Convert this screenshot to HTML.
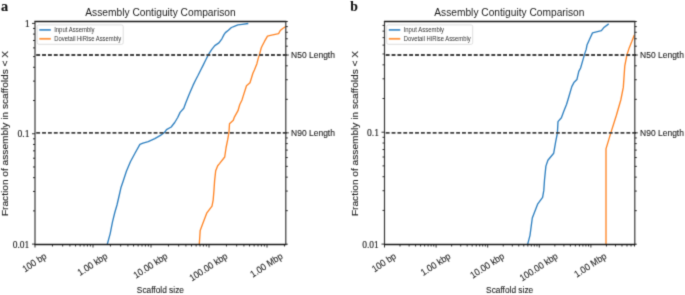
<!DOCTYPE html>
<html><head><meta charset="utf-8"><style>
html,body{margin:0;padding:0;background:#fff;}
text{stroke:#222;stroke-width:0.12px;} text.lg{stroke:none;}
body{width:685px;height:295px;overflow:hidden;}
svg{display:block;}
</style></head><body>
<svg width="685" height="295" viewBox="0 0 685 295">
<defs><filter id="bl" x="0" y="0" width="685" height="295" filterUnits="userSpaceOnUse" color-interpolation-filters="sRGB"><feConvolveMatrix order="3" kernelMatrix="0.037 0.191 0.037 0.191 1 0.191 0.037 0.191 0.037" edgeMode="duplicate"/></filter></defs>
<g filter="url(#bl)">
<rect width="685" height="295" fill="#fff"/>
<path d="M107.3,244.2 L110.2,233.6 L112.5,221.9 L114.8,212.5 L117.0,205.0 L119.3,195.0 L120.9,187.8 L123.3,180.7 L126.4,171.2 L130.4,161.7 L135.1,153.0 L139.9,144.4 L143.0,143.2 L148.2,141.6 L154.8,138.7 L160.0,135.7 L164.8,132.1 L166.5,129.7 L171.2,127.0 L174.7,122.5 L177.7,117.5 L180.1,112.4 L183.8,108.3 L185.6,103.2 L189.2,94.3 L193.0,85.4 L195.5,80.3 L198.1,75.3 L200.6,70.2 L203.2,65.1 L205.7,60.0 L208.4,54.6 L211.8,49.4 L214.8,45.6 L218.9,42.9 L221.9,38.8 L224.0,34.6 L225.4,32.6 L228.4,30.2 L231.4,27.5 L234.3,26.3 L237.9,24.9 L242.1,24.3 L248.3,23.5" fill="none" stroke="#2f80c0" stroke-width="1.35" stroke-linejoin="round"/>
<path d="M199.3,244.2 L200.2,230.4 L202.8,223.5 L206.7,213.2 L212.0,206.1 L213.2,199.8 L214.0,190.0 L214.6,180.9 L215.7,170.8 L217.7,165.7 L219.5,163.6 L224.7,157.0 L226.1,147.5 L227.8,139.2 L229.0,132.0 L229.5,123.7 L233.3,120.2 L234.4,117.1 L238.0,110.7 L239.7,104.7 L242.0,100.0 L243.1,96.4 L246.5,85.7 L250.0,82.8 L252.9,73.3 L254.4,70.0 L256.9,63.7 L258.3,58.1 L259.5,54.7 L261.2,48.0 L262.0,46.3 L264.6,41.2 L267.5,36.1 L270.5,35.3 L278.6,33.6 L280.3,30.5 L282.7,28.5 L285.4,26.8" fill="none" stroke="#ff8526" stroke-width="1.35" stroke-linejoin="round"/>
<line x1="35.0" y1="55.02" x2="288.3" y2="55.02" stroke="#404040" stroke-width="1.9" stroke-dasharray="3.9,1.97" stroke-dashoffset="-1.2"/>
<line x1="35.0" y1="132.85" x2="288.3" y2="132.85" stroke="#404040" stroke-width="1.9" stroke-dasharray="3.9,1.97" stroke-dashoffset="-1.2"/>
<path d="M34.4,21.5H286.40000000000003" stroke="#1a1a1a" stroke-width="1.3" fill="none"/>
<path d="M34.4,244.5H286.40000000000003" stroke="#1a1a1a" stroke-width="1.4" fill="none"/>
<path d="M35.0,21.5V244.5M285.8,21.5V244.5" stroke="#3a3a3a" stroke-width="1.2" fill="none"/>
<path d="M35.00,244.10h-3.0 M285.80,244.20h2.0 M35.00,210.88h-2.0 M285.80,210.68h2.0 M35.00,191.45h-2.0 M285.80,191.07h2.0 M35.00,177.66h-2.0 M285.80,177.16h2.0 M35.00,166.97h-2.0 M285.80,166.37h2.0 M35.00,158.23h-2.0 M285.80,157.55h2.0 M35.00,150.84h-2.0 M285.80,150.10h2.0 M35.00,144.44h-2.0 M285.80,143.64h2.0 M35.00,138.80h-2.0 M285.80,137.95h2.0 M35.00,133.75h-3.0 M285.80,132.85h3.0 M35.00,100.53h-2.0 M285.80,99.33h2.0 M35.00,81.10h-2.0 M285.80,79.72h2.0 M35.00,67.31h-2.0 M285.80,65.81h2.0 M35.00,56.62h-2.0 M285.80,55.02h3.0 M35.00,47.88h-2.0 M285.80,46.20h2.0 M35.00,40.49h-2.0 M285.80,38.75h2.0 M35.00,34.09h-2.0 M285.80,32.29h2.0 M35.00,28.45h-2.0 M285.80,26.60h2.0 M35.00,23.40h-3.0 M285.80,21.50h2.0 M35.00,244.50v3.0 M52.46,244.50v2.0 M62.67,244.50v2.0 M69.92,244.50v2.0 M75.54,244.50v2.0 M80.13,244.50v2.0 M84.02,244.50v2.0 M87.38,244.50v2.0 M90.35,244.50v2.0 M93.00,244.50v3.0 M110.46,244.50v2.0 M120.67,244.50v2.0 M127.92,244.50v2.0 M133.54,244.50v2.0 M138.13,244.50v2.0 M142.02,244.50v2.0 M145.38,244.50v2.0 M148.35,244.50v2.0 M151.00,244.50v3.0 M168.46,244.50v2.0 M178.67,244.50v2.0 M185.92,244.50v2.0 M191.54,244.50v2.0 M196.13,244.50v2.0 M200.02,244.50v2.0 M203.38,244.50v2.0 M206.35,244.50v2.0 M209.00,244.50v3.0 M226.46,244.50v2.0 M236.67,244.50v2.0 M243.92,244.50v2.0 M249.54,244.50v2.0 M254.13,244.50v2.0 M258.02,244.50v2.0 M261.38,244.50v2.0 M264.35,244.50v2.0 M267.00,244.50v3.0 M284.46,244.50v2.0" stroke="#1a1a1a" stroke-width="0.9" fill="none"/>
<rect x="37.2" y="24.9" width="86" height="19.4" rx="1.6" fill="#fff" fill-opacity="0.85" stroke="#d6d6d6" stroke-width="0.8"/>
<line x1="39.3" y1="29.9" x2="50.8" y2="29.9" stroke="#4a92cc" stroke-width="1.8"/>
<line x1="39.3" y1="38.8" x2="50.8" y2="38.8" stroke="#ff9440" stroke-width="1.8"/>
<text class="lg" transform="matrix(0.5964,0,0,0.6345,54.16,31.60)" font-family='"Liberation Sans", sans-serif' font-size="10.0" fill="#333">Input Assembly</text>
<text class="lg" transform="matrix(0.5895,0,0,0.6759,54.23,40.50)" font-family='"Liberation Sans", sans-serif' font-size="10.0" fill="#333">Dovetail HiRise Assembly</text>
<text class="lg" transform="matrix(1.0225,0,0,1.0621,85.30,15.90)" font-family='"Liberation Sans", sans-serif' font-size="10.0" fill="#1a1a1a">Assembly Contiguity Comparison</text>
<text transform="matrix(1.4286,0,0,1.3958,0.97,10.76)" font-family='"Liberation Serif", serif' font-size="10.0" font-weight="bold" fill="#111">a</text>
<text transform="matrix(0.8478,0,0,0.9241,291.12,58.10)" font-family='"Liberation Sans", sans-serif' font-size="10.0" fill="#222">N50 Length</text>
<text transform="matrix(0.8478,0,0,0.9241,291.12,135.90)" font-family='"Liberation Sans", sans-serif' font-size="10.0" fill="#222">N90 Length</text>
<text transform="matrix(1.0141,0,0,1.1212,24.74,26.60)" font-family='"Liberation Serif", serif' font-size="10.0" fill="#222">1</text>
<text transform="matrix(0.9652,0,0,1.0526,17.51,137.00)" font-family='"Liberation Serif", serif' font-size="10.0" fill="#222">0.1</text>
<text transform="matrix(0.9515,0,0,1.0226,12.72,247.80)" font-family='"Liberation Serif", serif' font-size="10.0" fill="#222">0.01</text>
<text transform="matrix(0.7380,-0.4793,0.5120,0.7884,24.90,272.39)" font-family='"Liberation Sans", sans-serif' font-size="10.0" fill="#222">100 bp</text>
<text transform="matrix(0.7380,-0.4793,0.5120,0.7884,80.04,276.10)" font-family='"Liberation Sans", sans-serif' font-size="10.0" fill="#222">1.00 kbp</text>
<text transform="matrix(0.7380,-0.4793,0.5120,0.7884,135.99,278.76)" font-family='"Liberation Sans", sans-serif' font-size="10.0" fill="#222">10.00 kbp</text>
<text transform="matrix(0.7380,-0.4793,0.5120,0.7884,191.92,281.45)" font-family='"Liberation Sans", sans-serif' font-size="10.0" fill="#222">100.00 kbp</text>
<text transform="matrix(0.7380,-0.4793,0.5120,0.7884,252.80,277.71)" font-family='"Liberation Sans", sans-serif' font-size="10.0" fill="#222">1.00 Mbp</text>
<text transform="matrix(0.8345,0,0,0.9241,136.82,292.60)" font-family='"Liberation Sans", sans-serif' font-size="10.0" fill="#222">Scaffold size</text>
<text transform="matrix(0,-1.0151,0.8552,0,7.60,216.11)" font-family='"Liberation Sans", sans-serif' font-size="10.0" fill="#222">Fraction of assembly in scaffolds &lt; X</text>
<path d="M527.7,244.2 L530.0,235.3 L532.3,218.0 L537.6,204.2 L542.6,197.3 L543.8,190.4 L544.5,180.0 L545.9,166.1 L547.9,160.3 L553.7,153.2 L555.7,141.7 L557.4,133.0 L558.0,121.6 L561.4,117.8 L563.7,111.5 L566.6,104.3 L568.7,97.2 L571.8,86.6 L573.9,82.6 L576.9,79.6 L578.8,71.4 L580.6,68.0 L582.8,60.4 L584.5,54.4 L586.2,49.4 L587.0,45.1 L589.6,39.2 L592.5,32.9 L601.4,30.7 L603.6,27.8 L608.7,23.9" fill="none" stroke="#2f80c0" stroke-width="1.35" stroke-linejoin="round"/>
<path d="M606.0,244.2 L606.0,148.9 L610.9,132.6 L616.4,115.3 L620.8,100.0 L623.3,87.4 L624.8,65.8 L626.9,55.0 L629.2,47.9 L631.8,41.6 L634.3,35.0" fill="none" stroke="#ff8526" stroke-width="1.35" stroke-linejoin="round"/>
<line x1="384.5" y1="55.02" x2="637.3" y2="55.02" stroke="#404040" stroke-width="1.9" stroke-dasharray="3.9,1.97" stroke-dashoffset="-1.2"/>
<line x1="384.5" y1="132.85" x2="637.3" y2="132.85" stroke="#404040" stroke-width="1.9" stroke-dasharray="3.9,1.97" stroke-dashoffset="-1.2"/>
<path d="M383.9,21.5H635.4" stroke="#1a1a1a" stroke-width="1.3" fill="none"/>
<path d="M383.9,244.5H635.4" stroke="#1a1a1a" stroke-width="1.4" fill="none"/>
<path d="M384.5,21.5V244.5M634.8,21.5V244.5" stroke="#3a3a3a" stroke-width="1.2" fill="none"/>
<path d="M384.50,244.10h-3.0 M634.80,244.20h2.0 M384.50,210.41h-2.0 M634.80,210.68h2.0 M384.50,190.71h-2.0 M634.80,191.07h2.0 M384.50,176.73h-2.0 M634.80,177.16h2.0 M384.50,165.89h-2.0 M634.80,166.37h2.0 M384.50,157.02h-2.0 M634.80,157.55h2.0 M384.50,149.53h-2.0 M634.80,150.10h2.0 M384.50,143.04h-2.0 M634.80,143.64h2.0 M384.50,137.32h-2.0 M634.80,137.95h2.0 M384.50,132.20h-3.0 M634.80,132.85h3.0 M384.50,98.51h-2.0 M634.80,99.33h2.0 M384.50,78.81h-2.0 M634.80,79.72h2.0 M384.50,64.83h-2.0 M634.80,65.81h2.0 M384.50,53.99h-2.0 M634.80,55.02h3.0 M384.50,45.12h-2.0 M634.80,46.20h2.0 M384.50,37.63h-2.0 M634.80,38.75h2.0 M384.50,31.14h-2.0 M634.80,32.29h2.0 M384.50,25.42h-2.0 M634.80,26.60h2.0 M634.80,21.50h2.0 M384.50,244.50v3.0 M400.03,244.50v2.0 M409.12,244.50v2.0 M415.57,244.50v2.0 M420.57,244.50v2.0 M424.65,244.50v2.0 M428.11,244.50v2.0 M431.10,244.50v2.0 M433.74,244.50v2.0 M436.10,244.50v3.0 M451.63,244.50v2.0 M460.72,244.50v2.0 M467.17,244.50v2.0 M472.17,244.50v2.0 M476.25,244.50v2.0 M479.71,244.50v2.0 M482.70,244.50v2.0 M485.34,244.50v2.0 M487.70,244.50v3.0 M503.23,244.50v2.0 M512.32,244.50v2.0 M518.77,244.50v2.0 M523.77,244.50v2.0 M527.85,244.50v2.0 M531.31,244.50v2.0 M534.30,244.50v2.0 M536.94,244.50v2.0 M539.30,244.50v3.0 M554.83,244.50v2.0 M563.92,244.50v2.0 M570.37,244.50v2.0 M575.37,244.50v2.0 M579.45,244.50v2.0 M582.91,244.50v2.0 M585.90,244.50v2.0 M588.54,244.50v2.0 M590.90,244.50v3.0 M606.43,244.50v2.0 M615.52,244.50v2.0 M621.97,244.50v2.0 M626.97,244.50v2.0 M631.05,244.50v2.0 M634.51,244.50v2.0" stroke="#1a1a1a" stroke-width="0.9" fill="none"/>
<rect x="386.7" y="24.9" width="86" height="19.4" rx="1.6" fill="#fff" fill-opacity="0.85" stroke="#d6d6d6" stroke-width="0.8"/>
<line x1="388.8" y1="29.9" x2="400.3" y2="29.9" stroke="#4a92cc" stroke-width="1.8"/>
<line x1="388.8" y1="38.8" x2="400.3" y2="38.8" stroke="#ff9440" stroke-width="1.8"/>
<text class="lg" transform="matrix(0.5964,0,0,0.6345,403.66,31.60)" font-family='"Liberation Sans", sans-serif' font-size="10.0" fill="#333">Input Assembly</text>
<text class="lg" transform="matrix(0.5895,0,0,0.6759,403.73,40.50)" font-family='"Liberation Sans", sans-serif' font-size="10.0" fill="#333">Dovetail HiRise Assembly</text>
<text class="lg" transform="matrix(1.0198,0,0,1.0621,434.30,15.90)" font-family='"Liberation Sans", sans-serif' font-size="10.0" fill="#1a1a1a">Assembly Contiguity Comparison</text>
<text transform="matrix(1.3663,0,0,1.4043,350.16,10.76)" font-family='"Liberation Serif", serif' font-size="10.0" font-weight="bold" fill="#111">b</text>
<text transform="matrix(0.8478,0,0,0.9241,640.12,58.10)" font-family='"Liberation Sans", sans-serif' font-size="10.0" fill="#222">N50 Length</text>
<text transform="matrix(0.8478,0,0,0.9241,640.12,135.90)" font-family='"Liberation Sans", sans-serif' font-size="10.0" fill="#222">N90 Length</text>
<text transform="matrix(0.9652,0,0,1.0827,367.01,135.80)" font-family='"Liberation Serif", serif' font-size="10.0" fill="#222">0.1</text>
<text transform="matrix(0.9515,0,0,1.0226,362.22,247.80)" font-family='"Liberation Serif", serif' font-size="10.0" fill="#222">0.01</text>
<text transform="matrix(0.7380,-0.4793,0.5120,0.7884,374.40,272.39)" font-family='"Liberation Sans", sans-serif' font-size="10.0" fill="#222">100 bp</text>
<text transform="matrix(0.7380,-0.4793,0.5120,0.7884,423.14,276.10)" font-family='"Liberation Sans", sans-serif' font-size="10.0" fill="#222">1.00 kbp</text>
<text transform="matrix(0.7380,-0.4793,0.5120,0.7884,472.69,278.76)" font-family='"Liberation Sans", sans-serif' font-size="10.0" fill="#222">10.00 kbp</text>
<text transform="matrix(0.7380,-0.4793,0.5120,0.7884,522.22,281.45)" font-family='"Liberation Sans", sans-serif' font-size="10.0" fill="#222">100.00 kbp</text>
<text transform="matrix(0.7380,-0.4793,0.5120,0.7884,576.70,277.71)" font-family='"Liberation Sans", sans-serif' font-size="10.0" fill="#222">1.00 Mbp</text>
<text transform="matrix(0.8345,0,0,0.9241,486.07,292.60)" font-family='"Liberation Sans", sans-serif' font-size="10.0" fill="#222">Scaffold size</text>
<text transform="matrix(0,-1.0151,0.8552,0,357.60,216.11)" font-family='"Liberation Sans", sans-serif' font-size="10.0" fill="#222">Fraction of assembly in scaffolds &lt; X</text>
</g>
</svg>
</body></html>
